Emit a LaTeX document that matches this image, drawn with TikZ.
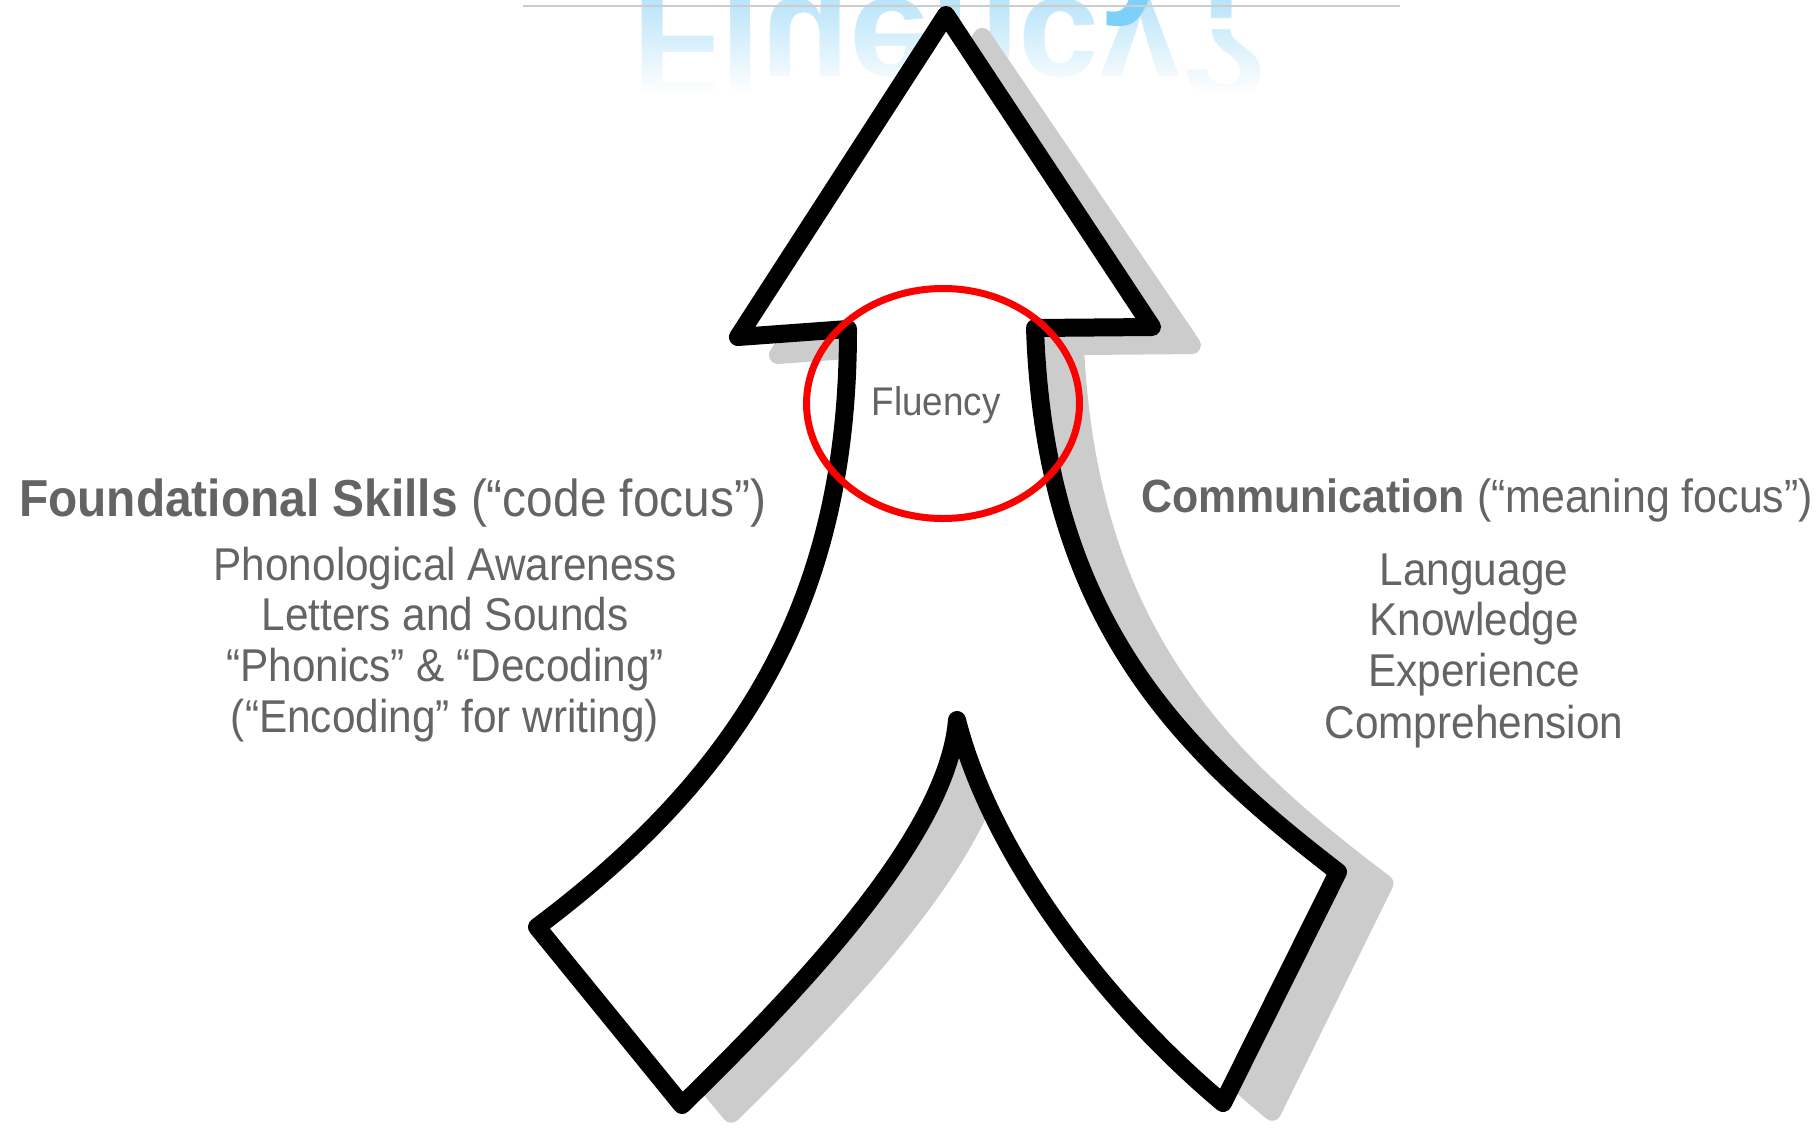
\documentclass[tikz,border=0pt]{standalone}
\usepackage{fontspec}
\setmainfont{Liberation Sans}
\usepackage{graphicx}
\usetikzlibrary{fadings}

\definecolor{txtgray}{RGB}{100,100,100}
\definecolor{shadowgray}{RGB}{204,204,204}
\definecolor{titleblue}{RGB}{125,208,250}
\definecolor{glowblue}{RGB}{178,226,250}
\definecolor{rulegray}{RGB}{205,205,205}
\definecolor{ringred}{RGB}{250,0,0}

% white veil: clear at the top, solid white at the bottom
\tikzfading[name=fadedown, top color=transparent!100, bottom color=transparent!0]

\newcommand\narrowtext[1]{\scalebox{0.92}[1]{#1}}

\begin{document}
\begin{tikzpicture}[x=1pt, y=-1pt,
  arrowoutline/.style={insert path={
    (946,15) -- (1152,327) -- (1035,328)
    .. controls (1045,620) and (1180,750) .. (1338,872)
    -- (1223,1103)
    .. controls (1100,1000) and (990,850) .. (957,720)
    .. controls (948,830) and (815,975) .. (682,1105)
    -- (537,927)
    .. controls (760,760) and (848,580) .. (848,329)
    -- (738,337) -- cycle}},
  edge/.style={line width=18, line join=round},
  lbl/.style={text=txtgray, inner sep=0pt, anchor=base},
  headfont/.style={font=\fontsize{52}{60}\selectfont},
  subheadfont/.style={font=\fontsize{46.6}{52}\selectfont},
  listfont/.style={font=\fontsize{46}{52}\selectfont},
  titlefont/.style={font=\bfseries\fontsize{145}{150}\selectfont},
]
\useasboundingbox (0,0) rectangle (1819,1127);
\fill[white] (0,0) rectangle (1819,1127);

\begin{scope}
  \clip (0,0) rectangle (1819,1127);
  % mirrored title fading out downwards
  \node[inner sep=0pt, anchor=base west, text=glowblue, titlefont] (mirror) at (632,-1)
    {\scalebox{1}[-1]{Fluency?}};
  \fill[white, path fading=fadedown] (560,-10) rectangle (1340,92);
  \fill[white] (560,91) rectangle (1340,175);
  % the title itself, only its lowest strokes fall inside the page
  \node[inner sep=0pt, anchor=base west, text=titleblue, titlefont] (title) at (632,-3) {Fluency?};
  \draw[rulegray, line width=2] (523,6) -- (1400,6);

  % drop shadow of the forked arrow
  \begin{scope}[cm={1,0,-0.012,0.988,(36pt,-22pt)}]
    \path[fill=shadowgray, draw=shadowgray, edge, arrowoutline];
  \end{scope}
  % the forked arrow
  \path[fill=white, draw=black, edge, arrowoutline];
\end{scope}

% left strand
\node[lbl, anchor=base west, headfont] (found) at (19,516)
  {\narrowtext{\textbf{Foundational Skills} (“code focus”)}};
\node[lbl, listfont] (pa)  at (445,580) {\narrowtext{Phonological Awareness}};
\node[lbl, listfont] (ls)  at (445,630) {\narrowtext{Letters and Sounds}};
\node[lbl, listfont] (pd)  at (445,681) {\narrowtext{“Phonics” \& “Decoding”}};
\node[lbl, listfont] (enc) at (445,732) {\narrowtext{(“Encoding” for writing)}};

% right strand
\node[lbl, anchor=base west, subheadfont] (comm) at (1141,512)
  {\narrowtext{\textbf{Communication} (“meaning focus”)}};
\node[lbl, listfont] (lang) at (1474,585) {\narrowtext{Language}};
\node[lbl, listfont] (know) at (1474,635) {\narrowtext{Knowledge}};
\node[lbl, listfont] (expe) at (1474,686) {\narrowtext{Experience}};
\node[lbl, listfont] (comp) at (1474,738) {\narrowtext{Comprehension}};

% where the strands meet
\draw[ringred, line width=7] (943,403.5) ellipse [x radius=136.5, y radius=115];
\node[lbl, font=\fontsize{40}{44}\selectfont] (flu) at (936,415) {\narrowtext{Fluency}};
\end{tikzpicture}
\end{document}
